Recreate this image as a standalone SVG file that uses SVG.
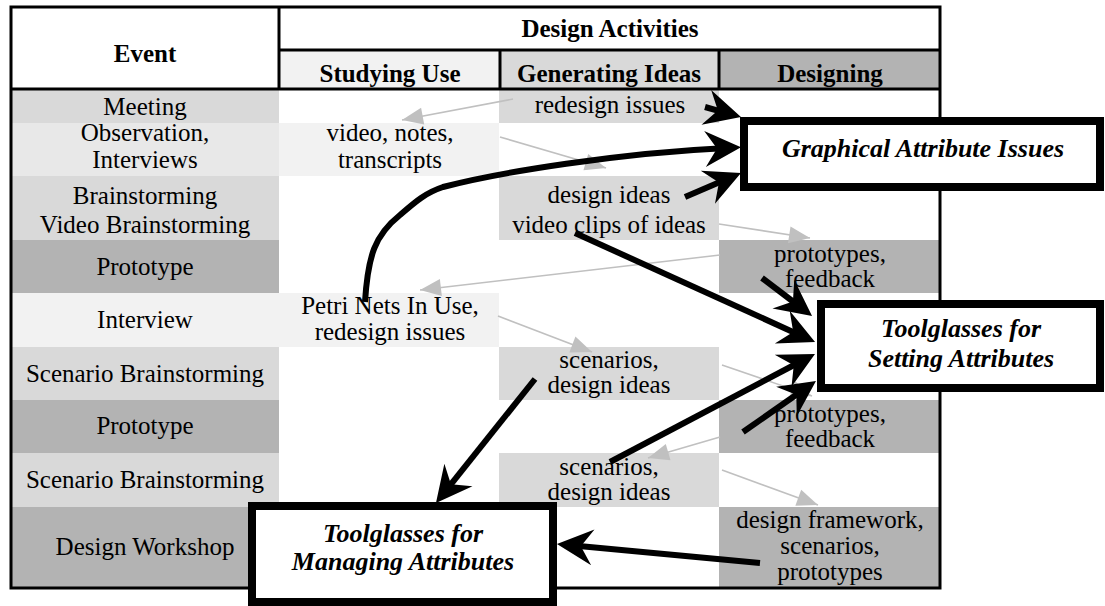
<svg xmlns="http://www.w3.org/2000/svg" width="1105" height="606" viewBox="0 0 1105 606">
  <style>
    .t { font-family: "Liberation Serif", "Times New Roman", serif; font-size: 25px; text-anchor: middle; fill: #000; }
    .h { font-family: "Liberation Serif", "Times New Roman", serif; font-size: 25px; font-weight: bold; text-anchor: middle; fill: #000; }
    .lbl { font-family: "Liberation Serif", "Times New Roman", serif; font-size: 26px; font-weight: bold; font-style: italic; text-anchor: middle; fill: #000; }
    .grid { stroke: #000; stroke-width: 3; fill: none; }
    .c1 { fill: #f2f2f2; }
    .c1b { fill: #e8e8e8; }
    .c2 { fill: #d9d9d9; }
    .c3 { fill: #b3b3b3; }
    .box { fill: #fff; stroke: #000; stroke-width: 8; }
    .soft { stroke: #c0c0c0; stroke-width: 1.6; fill: none; marker-end: url(#softHead); }
    .bold { stroke: #000; stroke-width: 6; fill: none; marker-end: url(#boldHead); }
  </style>
  <defs>
    <marker id="softHead" viewBox="-24 -12 26 24" refX="0" refY="0" markerWidth="26" markerHeight="24" markerUnits="userSpaceOnUse" orient="auto">
      <path d="M0,0 L-21,-8.5 L-21,8.5 Z" fill="#c0c0c0"/>
    </marker>
    <marker id="boldHead" viewBox="-24 -20 40 40" refX="0" refY="0" markerWidth="40" markerHeight="40" markerUnits="userSpaceOnUse" orient="auto">
      <path d="M14,0 L-22,-18 L-10,0 L-22,18 Z" fill="#000"/>
    </marker>
  </defs>

  <rect width="1105" height="606" fill="#fff"/>

  <!-- table: header cells -->
  <g id="table">
    <rect class="c1" x="280" y="51" width="220" height="38"/>
    <rect class="c2" x="500" y="51" width="219" height="38"/>
    <rect class="c3" x="719" y="51" width="221" height="38"/>

    <!-- event column -->
    <rect class="c2" x="12" y="89" width="267" height="34"/>
    <rect class="c1b" x="12" y="123" width="267" height="53"/>
    <rect class="c2" x="12" y="176" width="267" height="64"/>
    <rect class="c3" x="12" y="240" width="267" height="53"/>
    <rect class="c1" x="12" y="293" width="267" height="54"/>
    <rect class="c2" x="12" y="347" width="267" height="53"/>
    <rect class="c3" x="12" y="400" width="267" height="53"/>
    <rect class="c2" x="12" y="453" width="267" height="54"/>
    <rect class="c3" x="12" y="507" width="267" height="81"/>

    <!-- activity cells -->
    <rect class="c2" x="499" y="89" width="220" height="34"/>
    <rect class="c1" x="279" y="123" width="220" height="53"/>
    <rect class="c2" x="499" y="176" width="220" height="64"/>
    <rect class="c3" x="719" y="240" width="220" height="53"/>
    <rect class="c1" x="279" y="293" width="220" height="54"/>
    <rect class="c2" x="499" y="347" width="220" height="53"/>
    <rect class="c3" x="719" y="400" width="220" height="53"/>
    <rect class="c2" x="499" y="453" width="220" height="54"/>
    <rect class="c3" x="719" y="507" width="220" height="81"/>

    <!-- rules -->
    <rect class="grid" x="11" y="7" width="929" height="581"/>
    <line class="grid" x1="11" y1="89" x2="940" y2="89"/>
    <line class="grid" x1="279" y1="50" x2="940" y2="50"/>
    <line class="grid" x1="279" y1="7" x2="279" y2="89"/>
    <line class="grid" x1="500" y1="50" x2="500" y2="89"/>
    <line class="grid" x1="719" y1="50" x2="719" y2="89"/>

    <!-- headings -->
    <text class="h" x="145" y="62">Event</text>
    <text class="h" x="610" y="37">Design Activities</text>
    <text class="h" x="390" y="82">Studying Use</text>
    <text class="h" x="609" y="82">Generating Ideas</text>
    <text class="h" x="830" y="82">Designing</text>

    <!-- events -->
    <text class="t" x="145" y="115">Meeting</text>
    <text class="t" x="145" y="141">Observation,</text>
    <text class="t" x="145" y="168">Interviews</text>
    <text class="t" x="145" y="204">Brainstorming</text>
    <text class="t" x="145" y="233">Video Brainstorming</text>
    <text class="t" x="145" y="275">Prototype</text>
    <text class="t" x="145" y="328">Interview</text>
    <text class="t" x="145" y="382">Scenario Brainstorming</text>
    <text class="t" x="145" y="434">Prototype</text>
    <text class="t" x="145" y="488">Scenario Brainstorming</text>
    <text class="t" x="145" y="555">Design Workshop</text>

    <!-- outcomes -->
    <text class="t" x="610" y="113">redesign issues</text>
    <text class="t" x="390" y="141">video, notes,</text>
    <text class="t" x="390" y="168">transcripts</text>
    <text class="t" x="609" y="203">design ideas</text>
    <text class="t" x="609" y="233">video clips of ideas</text>
    <text class="t" x="830" y="262">prototypes,</text>
    <text class="t" x="830" y="287">feedback</text>
    <text class="t" x="390" y="314">Petri Nets In Use,</text>
    <text class="t" x="390" y="340">redesign issues</text>
    <text class="t" x="609" y="368">scenarios,</text>
    <text class="t" x="609" y="393">design ideas</text>
    <text class="t" x="830" y="422">prototypes,</text>
    <text class="t" x="830" y="447">feedback</text>
    <text class="t" x="609" y="475">scenarios,</text>
    <text class="t" x="609" y="500">design ideas</text>
    <text class="t" x="830" y="528">design framework,</text>
    <text class="t" x="830" y="554">scenarios,</text>
    <text class="t" x="830" y="580">prototypes</text>
  </g>

  <!-- flow between activities -->
  <g id="flow">
    <path class="soft" d="M513,99 L402,120"/>
    <path class="soft" d="M500,137 L606,168"/>
    <path class="soft" d="M719,224 L810,238"/>
    <path class="soft" d="M720,255 L420,290"/>
    <path class="soft" d="M498,316 L592,352"/>
    <path class="soft" d="M722,365 L812,396"/>
    <path class="soft" d="M720,437 L648,458"/>
    <path class="soft" d="M722,470 L818,505"/>
  </g>

  <!-- issue boxes -->
  <g id="graphical-attribute-issues">
    <rect class="box" x="744" y="121" width="356" height="66"/>
    <text class="lbl" x="923" y="157">Graphical Attribute Issues</text>
  </g>
  <g id="toolglasses-setting">
    <rect class="box" x="821" y="304" width="279" height="84"/>
    <text class="lbl" x="961" y="337">Toolglasses for</text>
    <text class="lbl" x="961" y="367">Setting Attributes</text>
  </g>
  <g id="toolglasses-managing">
    <rect class="box" x="252" y="506" width="301" height="96"/>
    <text class="lbl" x="403" y="542">Toolglasses for</text>
    <text class="lbl" x="403" y="570">Managing Attributes</text>
  </g>

  <!-- links from outcomes to issues -->
  <g id="links">
    <path class="bold" d="M705,107 L727.5,113.3"/>
    <path class="bold" d="M365,302 C368,255 375,235 400,215 C415,202 425,193 443,187 C500,172 620,153 727,148"/>
    <path class="bold" d="M685,197 L728.1,178.5"/>
    <path class="bold" d="M575,233 L802.3,336.2"/>
    <path class="bold" d="M762,278 L800.9,307.5"/>
    <path class="bold" d="M610,462 L802.6,360.5"/>
    <path class="bold" d="M743,432 L804.5,389"/>
    <path class="bold" d="M535,379 L444.7,492.1"/>
    <path class="bold" d="M760,563 L570.9,545.3"/>
  </g>
</svg>
